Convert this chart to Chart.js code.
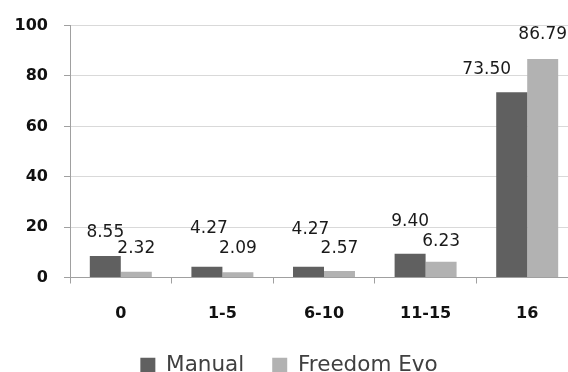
<!DOCTYPE html>
<html>
<head>
<meta charset="utf-8">
<script src="https://cdn.jsdelivr.net/npm/chart.js@4"></script>
<style>
  html, body { margin: 0; padding: 0; background: #fff; overflow: hidden; }
  #wrap { width: 580px; height: 386px; }
</style>
</head>
<body>
<div id="wrap"><canvas id="chart" width="580" height="386"></canvas></div>
<script>
// --- Data ---
const categories = ['0', '1-5', '6-10', '11-15', '16'];
const manualValues = [8.55, 4.27, 4.27, 9.40, 73.50];
const freedomValues = [2.32, 2.09, 2.57, 6.23, 86.79];
const seriesNames = ['Manual', 'Freedom Evo'];

const AXIS_FONT = 'DejaVu Sans';

// label nudges, Excel style hand placed labels
const labelShift = [
  [{ dx: 0, dy: 0 }, { dx: 2, dy: -15 }, { dx: 2, dy: -14 }, { dx: 0, dy: -9 }, { dx: -25, dy: 0 }],
  [{ dx: 0, dy: 0 }, { dx: 0, dy: -1 }, { dx: 0, dy: 1 }, { dx: 0, dy: 3 }, { dx: 0, dy: -1 }]
];

const valueLabels = {
  id: 'valueLabels',
  afterDatasetsDraw(chart) {
    const c = chart.ctx;
    c.save();
    c.font = '17px "' + AXIS_FONT + '"';
    c.fillStyle = '#1a1a1a';
    c.textAlign = 'center';
    c.textBaseline = 'middle';
    chart.data.datasets.forEach((ds, i) => {
      chart.getDatasetMeta(i).data.forEach((bar, j) => {
        const s = labelShift[i][j];
        c.fillText(ds.data[j].toFixed(2), bar.x + s.dx, bar.y - 23 + s.dy);
      });
    });
    c.restore();
  }
};

new Chart(document.getElementById('chart').getContext('2d'), {
  type: 'bar',
  data: {
    labels: categories,
    datasets: [
      { label: seriesNames[0], data: manualValues, backgroundColor: '#606060' },
      { label: seriesNames[1], data: freedomValues, backgroundColor: '#b2b2b2' }
    ]
  },
  options: {
    responsive: false,
    animation: false,
    categoryPercentage: 0.61,
    barPercentage: 1,
    layout: { padding: { top: 24, right: 2, left: 0, bottom: 0 } },
    plugins: {
      tooltip: { enabled: false },
      legend: {
        position: 'bottom',
        labels: {
          boxWidth: 15,
          boxHeight: 15,
          padding: 28,
          color: '#404040',
          font: { family: AXIS_FONT, size: 21.5 }
        }
      }
    },
    scales: {
      x: {
        afterFit(scale) { scale.height = 49; },
        grid: { offset: true, drawOnChartArea: false, drawTicks: true, tickLength: 6, tickColor: '#a0a0a0' },
        border: { color: '#a0a0a0' },
        ticks: { color: '#111', padding: 21, font: { family: AXIS_FONT, size: 16, weight: 'bold' } }
      },
      y: {
        min: 0,
        max: 100,
        afterFit(scale) { scale.width = 70; },
        grid: { color: '#d9d9d9', tickColor: '#a0a0a0', tickLength: 6 },
        border: { color: '#a0a0a0' },
        ticks: { stepSize: 20, color: '#111', padding: 16, font: { family: AXIS_FONT, size: 16, weight: 'bold' } }
      }
    }
  },
  plugins: [valueLabels]
});
</script>
</body>
</html>
